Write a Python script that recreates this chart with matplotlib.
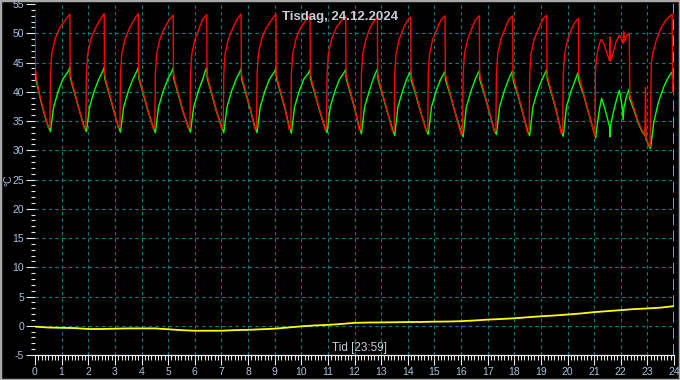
import matplotlib
matplotlib.use("Agg")
import matplotlib.pyplot as plt
from matplotlib.patches import Rectangle
from matplotlib.ticker import MultipleLocator

plt.rcParams['font.family'] = ['Liberation Sans', 'DejaVu Sans']

title = "Tisdag, 24.12.2024"
xlabel = "Tid [23:59]"
ylabel = "°C"
x_ticks = list(range(0, 25))
y_ticks = [-5, 0, 5, 10, 15, 20, 25, 30, 35, 40, 45, 50, 55]

# red series (time in hours, value in °C)
red_t = [0.00, 0.01, 0.06, 0.15, 0.30, 0.42,
         0.50, 0.56, 0.58, 0.63, 0.75, 0.92, 1.16, 1.31, 1.32, 1.37, 1.51, 1.66,
         1.85, 1.91, 1.93, 1.98, 2.10, 2.27, 2.45, 2.60, 2.61, 2.66, 2.80, 2.95,
         3.13, 3.19, 3.21, 3.26, 3.38, 3.55, 3.73, 3.88, 3.89, 3.94, 4.08, 4.23,
         4.44, 4.50, 4.52, 4.57, 4.69, 4.86, 5.04, 5.19, 5.20, 5.25, 5.39, 5.54,
         5.76, 5.82, 5.84, 5.89, 6.01, 6.18, 6.30, 6.45, 6.46, 6.51, 6.65, 6.80,
         7.01, 7.07, 7.09, 7.14, 7.26, 7.43, 7.59, 7.74, 7.75, 7.80, 7.94, 8.09,
         8.26, 8.32, 8.34, 8.39, 8.51, 8.68, 8.90, 9.05, 9.06, 9.11, 9.25, 9.40,
         9.55, 9.61, 9.63, 9.68, 9.80, 9.97, 10.18, 10.33, 10.34, 10.39, 10.53, 10.68,
         10.89, 10.95, 10.97, 11.02, 11.14, 11.31, 11.52, 11.67, 11.68, 11.73, 11.87, 12.02,
         12.18, 12.24, 12.26, 12.31, 12.43, 12.58, 12.72, 12.86, 12.87, 12.92, 13.06, 13.21,
         13.43, 13.49, 13.51, 13.56, 13.68, 13.84, 13.97, 14.11, 14.12, 14.17, 14.31, 14.46,
         14.69, 14.75, 14.77, 14.82, 14.94, 15.11, 15.25, 15.40, 15.41, 15.46, 15.60, 15.75,
         16.00, 16.06, 16.08, 16.13, 16.25, 16.42, 16.54, 16.69, 16.70, 16.75, 16.89, 17.04,
         17.25, 17.31, 17.33, 17.38, 17.50, 17.67, 17.79, 17.94, 17.95, 18.00, 18.14, 18.29,
         18.50, 18.56, 18.58, 18.63, 18.75, 18.92, 19.07, 19.22, 19.23, 19.28, 19.42, 19.57,
         19.76, 19.82, 19.84, 19.89, 20.01, 20.16, 20.27, 20.41, 20.42, 20.47, 20.61, 20.76,
         21.03, 21.05, 21.08, 21.15, 21.22, 21.28, 21.38, 21.48, 21.58, 21.60, 21.62, 21.70,
         21.82, 21.95, 22.05, 22.09, 22.11, 22.14, 22.22, 22.32, 22.34, 22.50, 22.65, 22.80,
         22.91, 22.93, 22.95, 23.02, 23.10, 23.15, 23.20, 23.32, 23.50, 23.70, 23.93, 23.95,
         24.00]
red_v = [53.3, 44.2, 42.3, 40.0, 37.2, 35.3,
         33.8, 34.1, 43.0, 46.5, 49.0, 50.9, 52.4, 53.3, 43.2, 42.0, 39.6, 37.1,
         33.7, 34.0, 43.0, 46.5, 49.0, 50.9, 52.4, 53.4, 43.2, 42.0, 39.6, 37.1,
         33.8, 34.1, 43.0, 46.5, 49.0, 50.9, 52.4, 53.4, 43.2, 42.0, 39.6, 37.1,
         33.7, 34.0, 43.0, 46.5, 49.0, 50.9, 52.3, 53.1, 43.2, 42.0, 39.6, 37.1,
         33.7, 34.0, 43.0, 46.5, 49.0, 51.0, 52.4, 53.2, 43.2, 42.0, 39.6, 37.1,
         33.6, 33.9, 43.0, 46.5, 49.0, 50.9, 52.4, 53.3, 43.2, 42.0, 39.6, 37.1,
         33.6, 33.9, 43.0, 46.5, 49.0, 50.9, 52.4, 53.3, 43.2, 42.0, 39.6, 37.1,
         33.5, 33.8, 43.0, 46.5, 49.0, 50.9, 52.3, 53.1, 43.2, 42.0, 39.6, 37.1,
         33.6, 33.9, 43.0, 46.5, 49.0, 50.9, 52.3, 53.0, 43.2, 42.0, 39.6, 37.1,
         33.4, 33.7, 43.0, 46.5, 49.0, 50.9, 52.0, 52.7, 43.2, 42.0, 39.6, 37.1,
         33.1, 33.4, 43.0, 46.5, 49.0, 50.9, 52.1, 52.8, 43.2, 42.0, 39.6, 37.1,
         33.3, 33.6, 43.0, 46.5, 49.0, 50.9, 52.3, 53.0, 43.2, 42.0, 39.6, 37.1,
         32.7, 33.0, 43.0, 46.5, 49.0, 51.0, 52.3, 53.0, 43.2, 42.0, 39.6, 37.1,
         33.2, 33.5, 43.0, 46.5, 49.0, 51.0, 52.3, 53.0, 43.2, 42.0, 39.6, 37.1,
         33.0, 33.3, 43.0, 46.5, 49.0, 50.9, 52.4, 53.1, 43.2, 42.0, 39.6, 37.1,
         32.9, 33.2, 43.0, 46.5, 49.0, 50.8, 51.8, 52.6, 43.2, 42.0, 39.6, 37.1,
         32.4, 43.4, 45.5, 47.3, 48.5, 49.0, 48.0, 46.6, 45.3, 49.4, 45.3, 46.5,
         48.5, 49.7, 48.8, 48.3, 50.3, 48.6, 49.6, 50.0, 39.5, 37.2, 35.0, 33.4,
         32.6, 40.7, 32.2, 31.3, 30.6, 45.0, 46.5, 48.6, 50.8, 52.3, 53.3, 40.0,
         39.8]

# green series
green_t = [0.00, 0.02, 0.15, 0.30, 0.42, 0.50,
           0.58, 0.70, 0.88, 1.05, 1.25, 1.31, 1.33, 1.51, 1.66, 1.85,
           1.93, 2.05, 2.23, 2.40, 2.54, 2.60, 2.62, 2.80, 2.95, 3.13,
           3.21, 3.33, 3.51, 3.68, 3.82, 3.88, 3.90, 4.08, 4.23, 4.44,
           4.52, 4.64, 4.82, 4.99, 5.13, 5.19, 5.21, 5.39, 5.54, 5.76,
           5.84, 5.96, 6.14, 6.31, 6.39, 6.45, 6.47, 6.65, 6.80, 7.01,
           7.09, 7.21, 7.39, 7.56, 7.68, 7.74, 7.76, 7.94, 8.09, 8.26,
           8.34, 8.46, 8.64, 8.81, 8.99, 9.05, 9.07, 9.25, 9.40, 9.55,
           9.63, 9.75, 9.93, 10.10, 10.27, 10.33, 10.35, 10.53, 10.68, 10.89,
           10.97, 11.09, 11.27, 11.44, 11.61, 11.67, 11.69, 11.87, 12.02, 12.18,
           12.26, 12.38, 12.56, 12.71, 12.80, 12.86, 12.88, 13.06, 13.21, 13.43,
           13.51, 13.63, 13.81, 13.96, 14.05, 14.11, 14.13, 14.31, 14.46, 14.69,
           14.77, 14.89, 15.07, 15.24, 15.34, 15.40, 15.42, 15.60, 15.75, 16.00,
           16.08, 16.20, 16.38, 16.55, 16.63, 16.69, 16.71, 16.89, 17.04, 17.25,
           17.33, 17.45, 17.63, 17.80, 17.88, 17.94, 17.96, 18.14, 18.29, 18.50,
           18.58, 18.70, 18.88, 19.05, 19.16, 19.22, 19.24, 19.42, 19.57, 19.76,
           19.84, 19.96, 20.14, 20.29, 20.35, 20.41, 20.43, 20.61, 20.76, 21.03,
           21.06, 21.12, 21.20, 21.28, 21.38, 21.48, 21.58, 21.60, 21.62, 21.72,
           21.85, 21.95, 22.05, 22.09, 22.12, 22.22, 22.31, 22.34, 22.50, 22.65,
           22.80, 22.91, 22.93, 22.95, 23.05, 23.12, 23.24, 23.42, 23.62, 23.80,
           23.93, 23.96, 24.00]
green_v = [44.2, 42.4, 39.8, 37.0, 35.1, 34.0,
           33.2, 37.4, 40.2, 42.2, 43.5, 44.2, 42.3, 39.4, 36.9, 34.0,
           33.2, 37.4, 40.2, 42.2, 43.5, 44.2, 42.3, 39.4, 36.9, 34.0,
           33.1, 37.4, 40.2, 42.2, 43.5, 44.2, 42.3, 39.4, 36.9, 34.0,
           33.0, 37.4, 40.2, 42.2, 43.4, 44.1, 42.3, 39.4, 36.9, 34.0,
           33.1, 37.4, 40.2, 42.3, 43.5, 44.1, 42.3, 39.4, 36.9, 34.0,
           33.0, 37.4, 40.2, 42.2, 43.3, 43.9, 42.2, 39.4, 36.9, 34.0,
           33.0, 37.4, 40.2, 42.2, 43.4, 44.0, 42.3, 39.4, 36.9, 34.0,
           32.9, 37.4, 40.2, 42.2, 43.2, 43.8, 42.2, 39.4, 36.9, 33.9,
           33.0, 37.4, 40.2, 42.2, 43.3, 43.9, 42.2, 39.4, 36.9, 33.9,
           32.8, 37.4, 40.2, 42.3, 43.3, 43.9, 42.2, 39.4, 36.9, 33.6,
           32.5, 37.4, 40.2, 42.2, 43.0, 43.5, 42.0, 39.4, 36.9, 33.5,
           32.7, 37.4, 40.2, 42.2, 43.0, 43.5, 42.0, 39.4, 36.9, 33.2,
           32.3, 37.4, 40.2, 42.3, 43.1, 43.6, 42.0, 39.4, 36.9, 33.4,
           32.7, 37.4, 40.2, 42.3, 43.1, 43.6, 42.0, 39.4, 36.9, 33.3,
           32.5, 37.4, 40.2, 42.2, 43.2, 43.8, 42.2, 39.4, 36.9, 33.3,
           32.4, 37.4, 40.2, 42.0, 42.8, 43.3, 41.8, 39.4, 36.9, 32.6,
           32.1, 34.5, 37.0, 38.9, 37.5, 35.8, 34.0, 32.3, 34.2, 36.5,
           38.8, 40.3, 37.5, 35.2, 37.3, 39.3, 40.4, 38.8, 36.8, 34.8,
           33.2, 32.5, 34.0, 31.9, 30.8, 30.3, 34.8, 38.3, 40.9, 42.6,
           43.4, 41.5, 40.0]

# yellow series (outdoor temperature)
yellow_t = [0.0, 0.5, 1.0, 1.5, 2.0, 2.5, 3.0, 3.5, 4.0, 4.5, 5.0, 5.5, 6.0, 6.5,
            7.0, 7.5, 8.0, 8.5, 9.0, 9.5, 10.0, 10.5, 11.0, 11.5, 12.0, 12.5,
            13.0, 13.5, 14.0, 14.5, 15.0, 15.5, 16.0, 16.5, 17.0, 17.5, 18.0,
            18.5, 19.0, 19.5, 20.0, 20.5, 21.0, 21.5, 22.0, 22.5, 23.0, 23.5, 24.0]
yellow_v = [-0.15, -0.3, -0.35, -0.4, -0.55, -0.55, -0.5, -0.45, -0.45, -0.45,
            -0.6, -0.75, -0.85, -0.85, -0.85, -0.75, -0.7, -0.6, -0.5, -0.3,
            -0.1, 0.05, 0.15, 0.3, 0.5, 0.55, 0.57, 0.6, 0.63, 0.65, 0.7, 0.72,
            0.78, 0.9, 1.05, 1.15, 1.28, 1.45, 1.62, 1.75, 1.92, 2.1, 2.33, 2.5,
            2.67, 2.85, 2.96, 3.1, 3.36]

W, H = 680, 380
fig = plt.figure(figsize=(W / 100, H / 100), dpi=100, facecolor='black')
ax = fig.add_axes([35 / W, 1 - 355 / H, 639 / W, (355 - 4.1) / H])
ax.set_facecolor('black')
ax.set_xlim(0, 24)
ax.set_ylim(-5, 55)

grid_col = '#008080'
for x in x_ticks[1:-1]:
    ax.axvline(x, color=grid_col, lw=0.8, ls=(0, (3, 3)), zorder=1)
for y in y_ticks[1:-1]:
    ax.axhline(y, color=grid_col, lw=0.8, ls=(0, (3, 3)), zorder=1)
ax.axvline(24, color='#00e5ff', lw=1.3, ls=(0, (6, 3)), zorder=1)

ax.plot(yellow_t, yellow_v, color='#ffff00', lw=1.3, zorder=3)
ax.plot(green_t, green_v, color='#00ff00', lw=1.0, zorder=3)
ax.plot(red_t, red_v, color='#ff0000', lw=1.0, zorder=4)

for s in ['top', 'right', 'left']:
    ax.spines[s].set_visible(False)
ax.spines['bottom'].set_color('#e8e8e8')
ax.spines['bottom'].set_linewidth(0.9)

ax.set_xticks(x_ticks)
ax.set_yticks(y_ticks)
ax.set_xticklabels([str(v) for v in x_ticks])
ax.set_yticklabels([str(v) for v in y_ticks])
ax.xaxis.set_minor_locator(MultipleLocator(0.125))
ax.yaxis.set_minor_locator(MultipleLocator(1))
lab_col = '#a9c3df'
ax.tick_params(axis='x', which='major', direction='out', length=7.2, width=0.8,
               color='#e8e8e8', labelcolor=lab_col, labelsize=7.5, pad=1.5)
ax.tick_params(axis='x', which='minor', direction='out', length=3.8, width=0.8,
               color='#e8e8e8')
ax.tick_params(axis='y', which='major', direction='out', length=6.5, width=0.8,
               color='#e8e8e8', labelcolor=lab_col, labelsize=7.5, pad=1.5)
ax.tick_params(axis='y', which='minor', direction='out', length=3.2, width=0.8,
               color='#e8e8e8')

fig.text(340 / W, 1 - 17 / H, title, ha='center', va='center',
         color='#c9ced6', fontsize=9.5, fontweight='bold')
fig.text(359 / W, 1 - 348 / H, xlabel, ha='center', va='center',
         color='#c9ced6', fontsize=8.5)
fig.text(8 / W, 1 - 180 / H, ylabel, ha='center', va='center', rotation=90,
         color=lab_col, fontsize=7.5)

fig.patches.append(Rectangle((0, 0), 1, 1, transform=fig.transFigure, fill=False,
                             edgecolor='#a8a8a8', lw=2.5))

fig.savefig('out.png', dpi=100, facecolor='black')
